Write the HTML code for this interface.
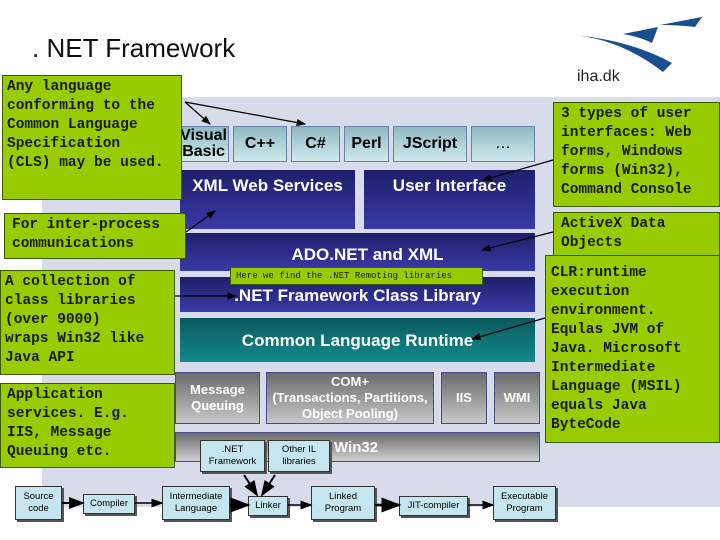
<!DOCTYPE html>
<html><head><meta charset="utf-8"><style>
*{margin:0;padding:0;box-sizing:border-box}
body{width:720px;height:540px;background:#fff;position:relative;overflow:hidden;font-family:"Liberation Sans",sans-serif}
.a{position:absolute}
.g{position:absolute;background:#99cc00;border:1px solid #3c5a00;font-family:"Liberation Mono",monospace;font-weight:bold;color:#1a1a1a;font-size:14.5px;line-height:19px;padding:2px 4px;white-space:pre}
.lang{position:absolute;background:linear-gradient(#8fb9c4,#cfe9ec);border:1px solid #6a84a8;color:#000;font-weight:bold;font-size:16px;display:flex;align-items:center;justify-content:center;text-align:center;line-height:16px;overflow:hidden}
.blue{position:absolute;background:linear-gradient(#1e1e6a,#3a3aa8);color:#fff;font-weight:bold;font-size:17px;text-align:center}
.gray{position:absolute;background:linear-gradient(#6b6b6b,#c8c8c8);border:1px solid #4a4a8a;color:#fff;font-weight:bold;font-size:13px;display:flex;align-items:center;justify-content:center;text-align:center;line-height:16px;white-space:nowrap}
.doc{position:absolute;background:#c5e6ee;border:1px solid #333;font-size:9.5px;display:flex;align-items:center;justify-content:center;text-align:center;line-height:12px;box-shadow:2px 2px 0 #555}
</style></head><body>
<div class="a" style="left:42px;top:97px;width:678px;height:410px;background:#d8dcea"></div>
<div class="a" style="left:32px;top:33px;font-size:26px;color:#111">. NET Framework</div>
<svg class="a" style="left:560px;top:5px" width="160" height="80">
<path d="M13 30 Q60 34 103 67 L112 58 Q70 35 13 30Z" fill="#1a4f8f"/>
<path d="M63 29 L98 22 L92 38 Q80 32 63 29Z" fill="#1a4f8f"/>
<path d="M100 20 L142 12 L135 22 Q118 20 100 20Z" fill="#1a4f8f"/>
</svg>
<div class="a" style="left:577px;top:68px;font-size:16px;color:#222">iha.dk</div>

<div class="lang" style="left:180px;top:126px;width:49px;height:36px;justify-content:flex-end;padding-right:1px">Visual<br>Basic</div>
<div class="lang" style="left:233px;top:126px;width:54px;height:36px">C++</div>
<div class="lang" style="left:291px;top:126px;width:49px;height:36px">C#</div>
<div class="lang" style="left:344px;top:126px;width:45px;height:36px">Perl</div>
<div class="lang" style="left:393px;top:126px;width:74px;height:36px">JScript</div>
<div class="lang" style="left:471px;top:126px;width:64px;height:36px;font-weight:normal">…</div>
<div class="blue" style="left:180px;top:170px;width:175px;height:59px;padding-top:6px">XML Web Services</div>
<div class="blue" style="left:364px;top:170px;width:171px;height:59px;padding-top:6px">User Interface</div>
<div class="blue" style="left:180px;top:233px;width:355px;height:38px;padding-top:12px;padding-left:20px">ADO.NET and XML</div>
<div class="blue" style="left:180px;top:277px;width:355px;height:35px;padding-top:9px">.NET Framework Class Library</div>
<div class="a" style="left:180px;top:318px;width:355px;height:44px;background:linear-gradient(#0b5a5e,#12898c);color:#fff;font-weight:bold;font-size:17px;text-align:center;padding-top:13px">Common Language Runtime</div>
<div class="gray" style="left:175px;top:372px;width:85px;height:52px">Message<br>Queuing</div>
<div class="gray" style="left:266px;top:372px;width:168px;height:52px">COM+<br>(Transactions, Partitions,<br>Object Pooling)</div>
<div class="gray" style="left:441px;top:372px;width:46px;height:52px">IIS</div>
<div class="gray" style="left:494px;top:372px;width:46px;height:52px">WMI</div>
<div class="a" style="left:175px;top:432px;width:365px;height:30px;background:linear-gradient(#6b6b6b,#d0d0d0);border:1px solid #4a4a8a;color:#fff;font-weight:bold;font-size:15px;padding:6px 0 0 158px">Win32</div>

<div class="doc" style="left:200px;top:440px;width:65px;height:32px">.NET<br>Framework</div>
<div class="doc" style="left:268px;top:440px;width:62px;height:32px">Other IL<br>libraries</div>
<div class="doc" style="left:15px;top:486px;width:47px;height:34px">Source<br>code</div>
<div class="doc" style="left:83px;top:494px;width:52px;height:20px">Compiler</div>
<div class="doc" style="left:162px;top:486px;width:68px;height:34px">Intermediate<br>Language</div>
<div class="doc" style="left:248px;top:496px;width:40px;height:20px">Linker</div>
<div class="doc" style="left:311px;top:486px;width:64px;height:34px">Linked<br>Program</div>
<div class="doc" style="left:399px;top:496px;width:69px;height:20px">JIT-compiler</div>
<div class="doc" style="left:493px;top:486px;width:63px;height:34px">Executable<br>Program</div>

<div class="g" style="left:2px;top:75px;width:180px;height:125px">Any language
conforming to the
Common Language
Specification
(CLS) may be used.</div>
<div class="g" style="left:4px;top:213px;width:182px;height:46px;padding-left:7px">For inter-process
communications</div>
<div class="g" style="left:553px;top:102px;width:167px;height:105px;padding-left:7px">3 types of user
interfaces: Web
forms, Windows
forms (Win32),
Command Console</div>
<div class="g" style="left:553px;top:212px;width:167px;height:46px;padding-left:7px">ActiveX Data
Objects</div>
<div class="g" style="left:230px;top:267px;width:253px;height:18px;font-size:9px;line-height:12px;padding:2px 5px;font-weight:normal">Here we find the .NET Remoting libraries</div>
<div class="g" style="left:0px;top:270px;width:175px;height:105px">A collection of
class libraries
(over 9000)
wraps Win32 like
Java API</div>
<div class="g" style="left:0px;top:383px;width:175px;height:85px;padding-left:6px">Application
services. E.g.
IIS, Message
Queuing etc.</div>
<div class="g" style="left:545px;top:255px;width:175px;height:188px;padding-top:8px;padding-left:5px">CLR:runtime
execution
environment.
Equlas JVM of
Java. Microsoft
Intermediate
Language (MSIL)
equals Java
ByteCode</div>

<svg class="a" style="left:0;top:0" width="720" height="540">
<defs><marker id="m" markerWidth="8" markerHeight="8" refX="7" refY="4" orient="auto"><path d="M0 1L8 4L0 7Z" fill="#000"/></marker></defs>
<g stroke="#000" stroke-width="1.2" fill="none" marker-end="url(#m)">
<line x1="185" y1="102" x2="210" y2="124"/>
<line x1="185" y1="102" x2="305" y2="124"/>
<line x1="186" y1="232" x2="215" y2="211"/>
<line x1="553" y1="160" x2="483" y2="180"/>
<line x1="553" y1="232" x2="482" y2="250"/>
<line x1="175" y1="296" x2="236" y2="296"/>
<line x1="545" y1="318" x2="472" y2="339"/>
</g>
<g stroke="#000" fill="none" marker-end="url(#m)">
<line x1="62" y1="503" x2="83" y2="503" stroke-width="2"/>
<line x1="135" y1="503" x2="162" y2="503" stroke-width="1.5"/>
<line x1="230" y1="505" x2="248" y2="505" stroke-width="2.5"/>
<line x1="288" y1="505" x2="311" y2="505" stroke-width="1.5"/>
<line x1="375" y1="505" x2="399" y2="505" stroke-width="2.5"/>
<line x1="468" y1="505" x2="493" y2="505" stroke-width="1.5"/>
<line x1="244" y1="475" x2="257" y2="495" stroke-width="2"/>
<line x1="275" y1="475" x2="262" y2="495" stroke-width="2"/>
</g>
</svg>
</body></html>
